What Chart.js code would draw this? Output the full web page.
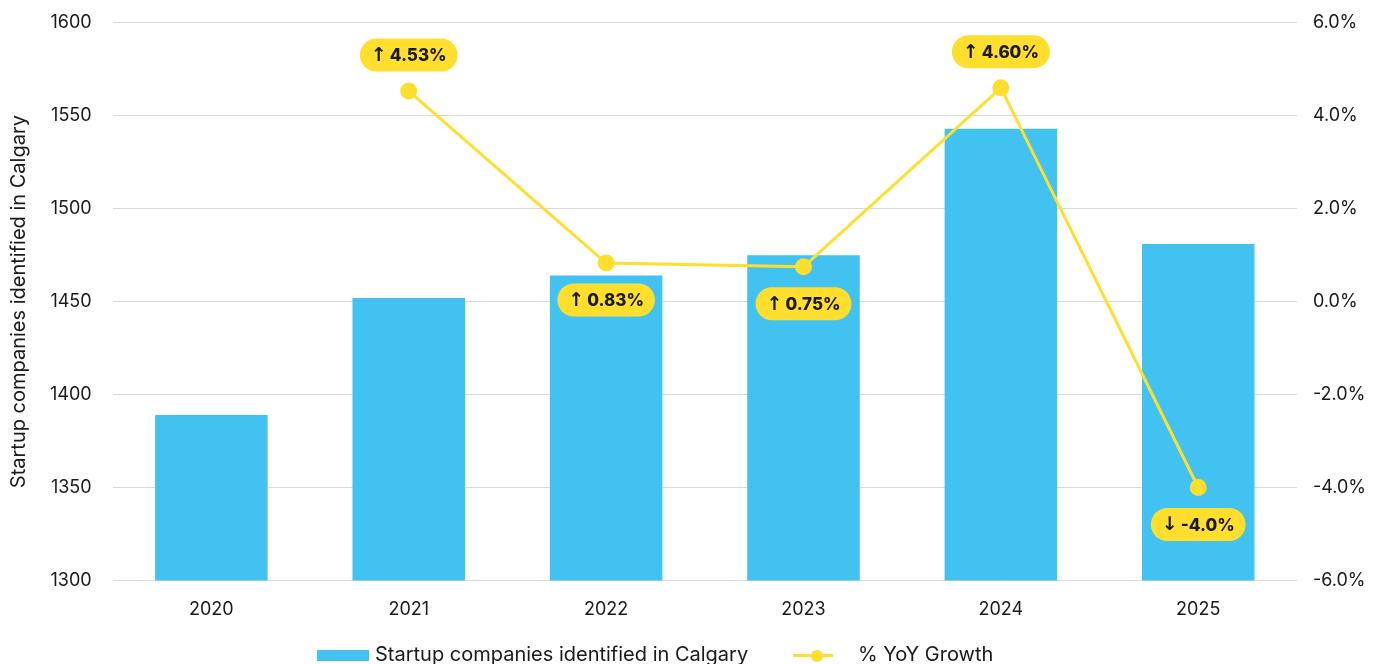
<!DOCTYPE html>
<html>
<head>
<meta charset="utf-8">
<script src="https://cdn.jsdelivr.net/npm/chart.js@4"></script>
<style>
  html, body { margin: 0; padding: 0; background: #fff; overflow: hidden; }
  #wrap { position: relative; width: 1376px; height: 664px; overflow: hidden; }
  canvas { display: block; position: absolute; left: 0; top: -9px; }
  #legend {
    position: absolute; left: 0; top: 642px; width: 1376px; height: 30px;
    font-family: Inter, "Noto Sans", sans-serif; font-size: 20px; color: #1a1a1a;
  }
  .item { position: absolute; top: 0; white-space: nowrap; }
  .swatch-bar { position: absolute; width: 52px; height: 11px; background: #41C2F1; top: 8px; }
  .swatch-line { position: absolute; width: 40px; height: 3px; background: #FFDE2E; top: 12px; }
  .swatch-dot { position: absolute; width: 12px; height: 12px; border-radius: 50%; background: #FFDE2E; top: 8px; }
</style>
</head>
<body>
<div id="wrap">
  <canvas id="startupChart" width="1376" height="673"></canvas>
  <div id="legend">
    <div class="item" style="left:317px">
      <span class="swatch-bar" style="left:0"></span>
      <span style="position:absolute;left:58px">Startup companies identified in Calgary</span>
    </div>
    <div class="item" style="left:793px">
      <span class="swatch-line" style="left:0"></span>
      <span class="swatch-dot" style="left:18px"></span>
      <span style="position:absolute;left:65px">% YoY Growth</span>
    </div>
  </div>
</div>
<script>
// Datos
const years = ["2020", "2021", "2022", "2023", "2024", "2025"];
const startups = [1389, 1452, 1464, 1475, 1543, 1481];
const yoyGrowth = [null, 4.53, 0.83, 0.75, 4.60, -4.0];
const yoyLabels = ["", "4.53%", "0.83%", "0.75%", "4.60%", "-4.0%"];

const BLUE = "#41C2F1";
const YELLOW = "#FFDE2E";
const FONT = "Inter, 'Noto Sans', sans-serif";

// Etiquetas tipo "pastilla" sobre los puntos de la línea
const pillLabels = {
  id: "pillLabels",
  afterDatasetsDraw(chart) {
    const meta = chart.getDatasetMeta(1);
    const ctx = chart.ctx;
    ctx.save();
    ctx.textBaseline = "middle";
    meta.data.forEach((pt, i) => {
      const v = yoyGrowth[i];
      if (v === null) return;
      const arrow = v >= 0 ? "\u2191" : "\u2193";
      const text = yoyLabels[i];
      ctx.font = "800 17px " + FONT;
      const tw = ctx.measureText(text).width;
      ctx.font = "700 19px 'DejaVu Sans', sans-serif";
      const aw = ctx.measureText(arrow).width;
      const gap = 3;
      const w = aw + gap + tw + 22;
      const h = 33;
      const cx = pt.x;
      const cy = v >= 2 ? pt.y - 36 : pt.y + 37;
      ctx.fillStyle = YELLOW;
      ctx.beginPath();
      ctx.roundRect(cx - w / 2, cy - h / 2, w, h, h / 2);
      ctx.fill();
      ctx.fillStyle = "#1a1a1a";
      ctx.textAlign = "left";
      const x0 = cx - w / 2 + 11;
      ctx.fillText(arrow, x0, cy + 1);
      ctx.font = "800 17px " + FONT;
      ctx.fillText(text, x0 + aw + gap, cy + 1);
    });
    ctx.restore();
  },
};

const ctx = document.getElementById("startupChart").getContext("2d");
new Chart(ctx, {
  data: {
    labels: years,
    datasets: [
      {
        type: "bar",
        label: "Startup companies identified in Calgary",
        data: startups,
        backgroundColor: BLUE,
        categoryPercentage: 1,
        barPercentage: 0.57,
        yAxisID: "y",
        order: 2,
      },
      {
        type: "line",
        label: "% YoY Growth",
        data: yoyGrowth,
        borderColor: YELLOW,
        backgroundColor: YELLOW,
        borderWidth: 3,
        pointRadius: 7,
        pointHoverRadius: 7,
        yAxisID: "y1",
        order: 1,
      },
    ],
  },
  options: {
    responsive: false,
    animation: false,
    layout: { padding: { top: 0, bottom: 34, left: 9, right: -6 } },
    plugins: {
      legend: { display: false },
      tooltip: { enabled: false },
    },
    scales: {
      x: {
        grid: { display: false },
        border: { display: false },
        ticks: { color: "#1a1a1a", font: { family: FONT, size: 18 }, padding: 10 },
      },
      y: {
        position: "left",
        min: 1300,
        max: 1600,
        ticks: {
          stepSize: 50,
          color: "#1a1a1a",
          font: { family: FONT, size: 18 },
          padding: 21,
          callback: (v) => String(v),
        },
        grid: { color: "#d9d9d9", drawTicks: false },
        border: { display: false },
        title: {
          display: true,
          text: "Startup companies identified in Calgary",
          color: "#1a1a1a",
          font: { family: FONT, size: 20, lineHeight: 1 },
          padding: 0,
        },
      },
      y1: {
        position: "right",
        min: -6,
        max: 6,
        ticks: {
          stepSize: 2,
          color: "#1a1a1a",
          font: { family: FONT, size: 18 },
          padding: 16,
          callback: (v) => v.toFixed(1) + "%",
        },
        grid: { drawOnChartArea: false, drawTicks: false },
        border: { display: false },
      },
    },
  },
  plugins: [pillLabels],
});
</script>
</body>
</html>
